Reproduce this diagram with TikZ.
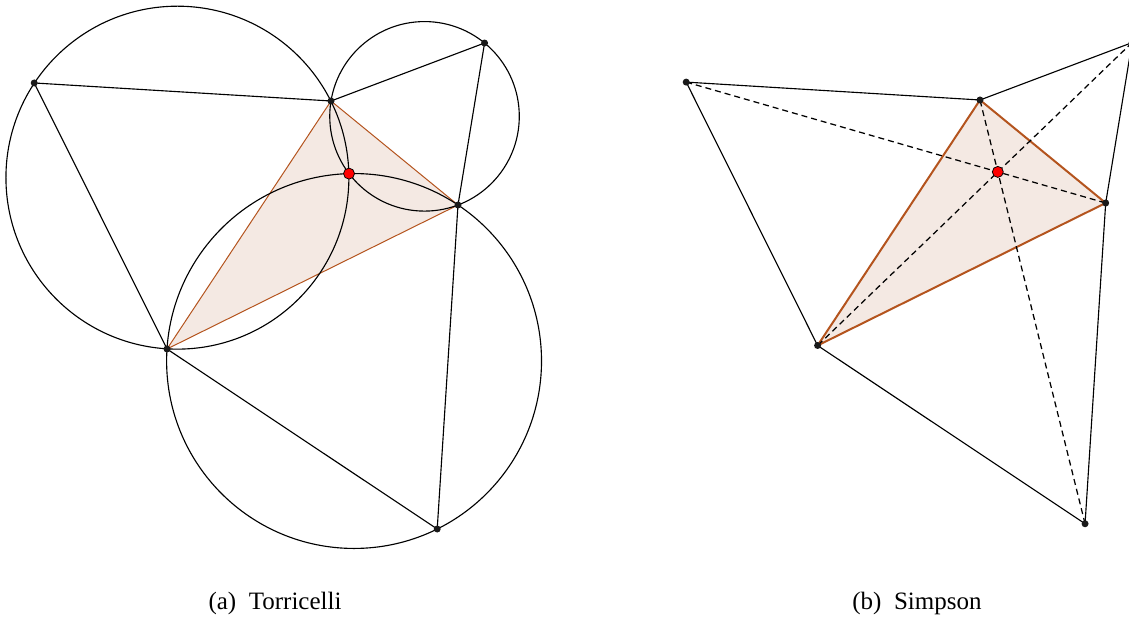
\documentclass[tikz,border=0pt]{standalone}
\usepackage{fontspec}
\setmainfont{Liberation Serif}
\usepackage{xcolor}
\definecolor{cTri}{HTML}{B4541E}
\definecolor{cFill}{HTML}{F4E9E3}
\definecolor{cDot}{HTML}{1A1A1A}
\usetikzlibrary{calc,through}
\tikzset{
  geo-line/.style={line width=0.45pt,draw=black},
  geo-dash/.style={line width=0.5pt,draw=black,dash pattern=on 2.4pt off 1.6pt},
  geo-circ/.style={line width=0.45pt,draw=black},
  tri-thin/.style={draw=cTri,line width=0.4pt,fill=cFill},
  tri-thick/.style={draw=cTri,line width=0.8pt,fill=cFill},
  vtx/.style={circle,fill=cDot,inner sep=0pt,minimum size=2.8pt},
  fermat/.style={circle,draw=black,fill=red,line width=0.3pt,
    inner sep=0pt,minimum size=4.4pt},
  caption-text/.style={font=\fontsize{10}{12}\selectfont},
}

\begin{document}
\begin{tikzpicture}[x=0.4pt,y=-0.4pt]
  \useasboundingbox (0,0) rectangle (1129,619);

  % (a) Torricelli
  \coordinate (B) at (331,101);
  \coordinate (D) at (458,205);
  \coordinate (E) at (167,349);
  \coordinate (A) at ($(B)!1!-60:(E)$);
  \coordinate (C) at ($(B)!1!60:(D)$);
  \coordinate (F) at ($(E)!1!-60:(D)$);
  \coordinate (P) at (intersection of A--D and C--E);

  \draw[tri-thin] (B) -- (D) -- (E) -- cycle;
  \node[geo-circ,circle through=(B)] (cABE) at ($(A)!0.5!(B)!1/3!(E)$) {};
  \node[geo-circ,circle through=(B)] (cBCD) at ($(B)!0.5!(C)!1/3!(D)$) {};
  \node[geo-circ,circle through=(E)] (cDEF) at ($(D)!0.5!(E)!1/3!(F)$) {};
  \draw[geo-line] (E) -- (A) -- (B) -- (C) -- (D) -- (F) -- (E);
  \foreach \p in {A,B,C,D,E,F} \node[vtx] at (\p) {};
  \node[fermat] (pa) at (P) {};
  \node[caption-text] (capa) at (275,603) {(a)\enspace Torricelli};

  % (b) Simpson
  \coordinate (B2) at (980,100);
  \coordinate (D2) at (1105.7,203);
  \coordinate (E2) at (817.6,345.5);
  \coordinate (A2) at ($(B2)!1!-60:(E2)$);
  \coordinate (C2) at ($(B2)!1!60:(D2)$);
  \coordinate (F2) at ($(E2)!1!-60:(D2)$);
  \coordinate (P2) at (intersection of A2--D2 and C2--E2);

  \draw[tri-thick] (B2) -- (D2) -- (E2) -- cycle;
  \draw[geo-line] (E2) -- (A2) -- (B2) -- (C2) -- (D2) -- (F2) -- (E2);
  \draw[geo-dash] (A2) -- (D2);
  \draw[geo-dash] (C2) -- (E2);
  \draw[geo-dash] (F2) -- (B2);
  \foreach \p in {A2,B2,C2,D2,E2,F2} \node[vtx] at (\p) {};
  \node[fermat] (pb) at (P2) {};
  \node[caption-text] (capb) at (917,603) {(b)\enspace Simpson};
\end{tikzpicture}
\end{document}
